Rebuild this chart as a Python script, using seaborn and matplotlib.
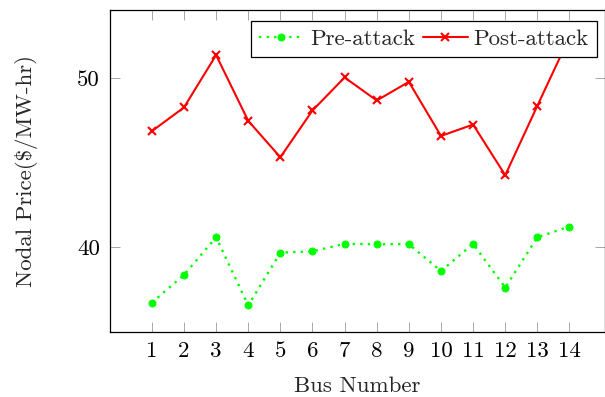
import matplotlib
matplotlib.use("Agg")
import matplotlib.pyplot as plt
import seaborn as sns
import pandas as pd

buses = list(range(1, 15))
pre_attack = [36.73, 38.37, 40.59, 36.57, 39.68, 39.76, 40.20, 40.18, 40.18, 38.60, 40.20, 37.62, 40.59, 41.22]
post_attack = [46.85, 48.25, 51.34, 47.46, 45.31, 48.07, 50.02, 48.66, 49.76, 46.57, 47.24, 44.25, 48.35, 52.4]
series_names = ["Pre-attack", "Post-attack"]
y_ticks = [40, 50]

sns.set_theme(style="white")
plt.rcParams['font.family'] = ['cmr10', 'DejaVu Serif']
plt.rcParams['mathtext.fontset'] = 'cm'
plt.rcParams['axes.formatter.use_mathtext'] = True

df = pd.DataFrame({
    "Bus": buses * 2,
    "Price": pre_attack + post_attack,
    "Series": [series_names[0]] * len(buses) + [series_names[1]] * len(buses),
})

fig = plt.figure(figsize=(6.05, 3.97), dpi=100)
ax = fig.add_axes([109.5 / 605, 1 - 332 / 397, (604.5 - 109.5) / 605, (332 - 10) / 397])

sns.lineplot(data=df[df.Series == series_names[0]], x="Bus", y="Price", ax=ax,
             color=(0, 1, 0), linestyle=(0, (1, 2.2)), linewidth=1.7,
             marker="o", markersize=5, markeredgecolor=(0, 1, 0), markerfacecolor=(0, 1, 0),
             label=series_names[0])
sns.lineplot(data=df[df.Series == series_names[1]], x="Bus", y="Price", ax=ax,
             color=(1, 0, 0), linestyle="-", linewidth=1.5,
             marker="x", markersize=6, markeredgewidth=1.5, markeredgecolor=(1, 0, 0),
             label=series_names[1])

ax.set_xlim(-0.318, 15.09)
ax.set_ylim(35, 54)
ax.set_xticks(buses)
ax.set_xticklabels([str(b) for b in buses])
ax.set_yticks(y_ticks)
ax.set_yticklabels([str(t) for t in y_ticks])
ax.tick_params(direction="in", length=7, width=0.6, color="#999999",
               top=True, right=True, bottom=True, left=True,
               labelsize=16.5, pad=7, labelcolor="black")
for s in ax.spines.values():
    s.set_color("black")
    s.set_linewidth(0.9)
    s.set_visible(True)

ax.set_xlabel("Bus Number", fontsize=16.5, labelpad=11)
ax.set_ylabel("Nodal Price(\\$/MW-hr)", fontsize=16.5, labelpad=28)

leg = ax.legend(loc="upper right", ncol=2, frameon=True, fancybox=False,
                edgecolor="black", framealpha=1, fontsize=16.5,
                handlelength=1.96, handletextpad=0.26, columnspacing=0.35,
                borderpad=0.35, borderaxespad=0, bbox_to_anchor=(0.9848, 0.9658))
leg.get_frame().set_linewidth(0.9)
leg.set_zorder(5)

fig.savefig("out.png", dpi=100)
